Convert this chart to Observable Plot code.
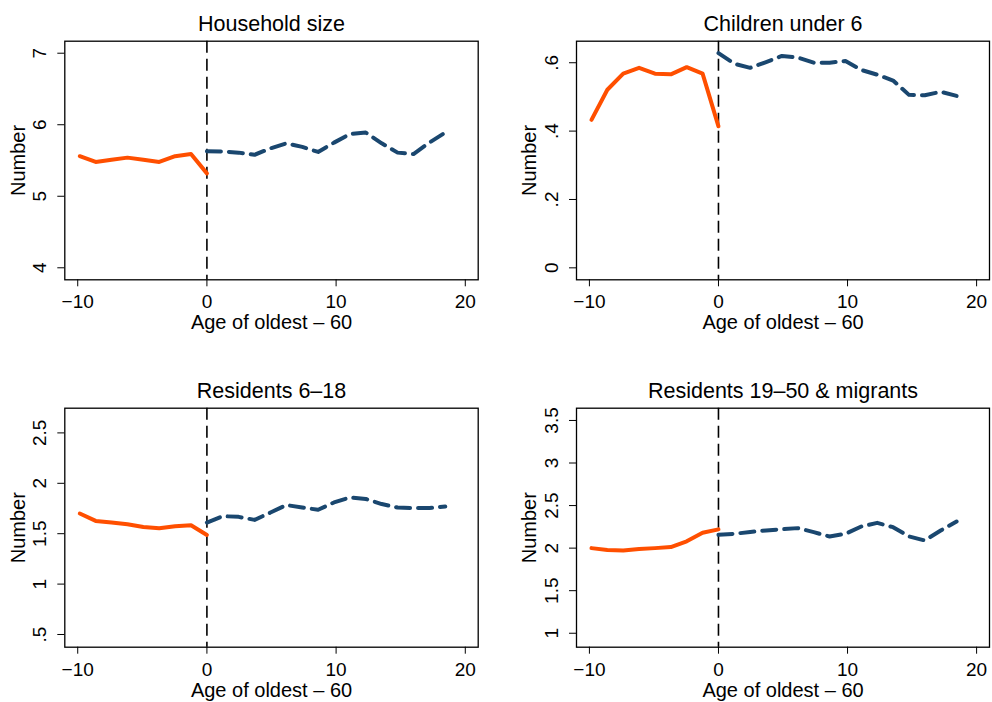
<!DOCTYPE html>
<html>
<head>
<meta charset="utf-8">
<script src="https://cdn.jsdelivr.net/npm/d3@7"></script>
<script src="https://cdn.jsdelivr.net/npm/@observablehq/plot@0.6"></script>
<style>
  html, body { margin: 0; padding: 0; background: #fff; }
  #grid { display: grid; grid-template-columns: 496px 496px; grid-template-rows: 351px 351px; width: 992px; height: 702px; }
  #grid svg { display: block; overflow: visible; }
</style>
</head>
<body>
<div id="grid"></div>
<script>
// Age of oldest household member minus 60, bin midpoints
const agePre  = [-9.84, -8.61, -7.38, -6.15, -4.92, -3.69, -2.46, -1.23, 0];
const agePost = [0, 1.23, 2.46, 3.69, 4.92, 6.15, 7.38, 8.61, 9.84, 11.07, 12.30, 13.53, 14.76, 15.99, 17.22, 18.45];

// Household size
const sizePre  = [5.56, 5.48, 5.51, 5.54, 5.51, 5.48, 5.56, 5.59, 5.32];
const sizePost = [5.63, 5.625, 5.61, 5.58, 5.67, 5.74, 5.69, 5.62, 5.75, 5.87, 5.89, 5.74, 5.61, 5.59, 5.75, 5.89];

// Children under 6
const kidsPre  = [0.433, 0.521, 0.568, 0.585, 0.568, 0.566, 0.587, 0.568, 0.414];
const kidsPost = [0.628, 0.597, 0.585, 0.602, 0.620, 0.615, 0.600, 0.600, 0.605, 0.579, 0.565, 0.548, 0.506, 0.505, 0.515, 0.503];

// Residents 6–18
const youthPre  = [1.70, 1.627, 1.61, 1.594, 1.567, 1.554, 1.574, 1.584, 1.487];
const youthPost = [1.61, 1.674, 1.667, 1.637, 1.71, 1.784, 1.76, 1.737, 1.81, 1.86, 1.844, 1.794, 1.76, 1.754, 1.754, 1.77];

// Residents 19–50 & migrants
const adultPre  = [2.00, 1.977, 1.973, 1.99, 2.00, 2.012, 2.08, 2.18, 2.22];
const adultPost = [2.157, 2.168, 2.19, 2.207, 2.223, 2.235, 2.188, 2.137, 2.168, 2.254, 2.297, 2.246, 2.137, 2.09, 2.207, 2.313];

const titles = ["Household size", "Children under 6", "Residents 6–18", "Residents 19–50 & migrants"];
const xLabel = "Age of oldest – 60";
const yLabel = "Number";

const xTicks = [-10, 0, 10, 20];
const xTickLabels = ["−10", "0", "10", "20"];

const sizeTicks  = [4, 5, 6, 7];
const sizeTickLabels = ["4", "5", "6", "7"];
const kidsTicks  = [0, 0.2, 0.4, 0.6];
const kidsTickLabels = ["0", ".2", ".4", ".6"];
const youthTicks = [0.5, 1, 1.5, 2, 2.5];
const youthTickLabels = [".5", "1", "1.5", "2", "2.5"];
const adultTicks = [1, 1.5, 2, 2.5, 3, 3.5];
const adultTickLabels = ["1", "1.5", "2", "2.5", "3", "3.5"];

const FONT = "'Liberation Sans', Arial, Helvetica, sans-serif";
const ORANGE = "#ff4f00";
const NAVY = "#1a476f";

function panel(title, pre, post, yDomain, yTicks, yTickLabels, margins) {
  const preData = agePre.map((x, j) => ({x, y: pre[j]}));
  const postData = agePost.map((x, j) => ({x, y: post[j]}));
  return Plot.plot({
    width: 496,
    height: 351,
    ...margins,
    style: {fontFamily: FONT, fontSize: "19px", background: "white", color: "black", overflow: "visible"},
    x: {domain: [-11, 21], axis: null},
    y: {domain: yDomain, axis: null},
    marks: [
      Plot.ruleX([0], {stroke: "black", strokeWidth: 1.6, strokeDasharray: "12,6"}),
      Plot.line(preData, {x: "x", y: "y", stroke: ORANGE, strokeWidth: 4, strokeLinejoin: "round"}),
      Plot.line(postData, {x: "x", y: "y", stroke: NAVY, strokeWidth: 4, strokeDasharray: "14,8", strokeLinejoin: "round"}),
      Plot.frame({stroke: "black", strokeWidth: 1.3}),
      Plot.axisX(xTicks, {tickSize: 7, tickPadding: 8, fontSize: 19, label: null,
        tickFormat: d => xTickLabels[xTicks.indexOf(d)]}),
      Plot.axisY(yTicks, {tickSize: 7, tickPadding: 12, tickRotate: -90, fontSize: 19, label: null,
        tickFormat: d => yTickLabels[yTicks.indexOf(d)]}),
      Plot.text([title], {frameAnchor: "top", lineAnchor: "middle", textAnchor: "middle", dy: -17, fontSize: 21.5}),
      Plot.text([xLabel], {frameAnchor: "bottom", lineAnchor: "middle", textAnchor: "middle", dy: 43, fontSize: 20}),
      Plot.text([yLabel], {frameAnchor: "left", lineAnchor: "middle", textAnchor: "middle", rotate: -90, dx: -46.5, fontSize: 20})
    ]
  });
}

const topRow = {marginTop: 40.7, marginBottom: 71.7};
const bottomRow = {marginTop: 56.7, marginBottom: 55.3};
const leftCol = {marginLeft: 64.3, marginRight: 18.3};
const rightCol = {marginLeft: 80, marginRight: 3};

const grid = document.getElementById("grid");
grid.append(
  panel(titles[0], sizePre, sizePost, [3.832, 7.168], sizeTicks, sizeTickLabels, {...topRow, ...leftCol}),
  panel(titles[1], kidsPre, kidsPost, [-0.035, 0.663], kidsTicks, kidsTickLabels, {...topRow, ...rightCol}),
  panel(titles[2], youthPre, youthPost, [0.374, 2.745], youthTicks, youthTickLabels, {...bottomRow, ...leftCol}),
  panel(titles[3], adultPre, adultPost, [0.836, 3.644], adultTicks, adultTickLabels, {...bottomRow, ...rightCol})
);
</script>
</body>
</html>
